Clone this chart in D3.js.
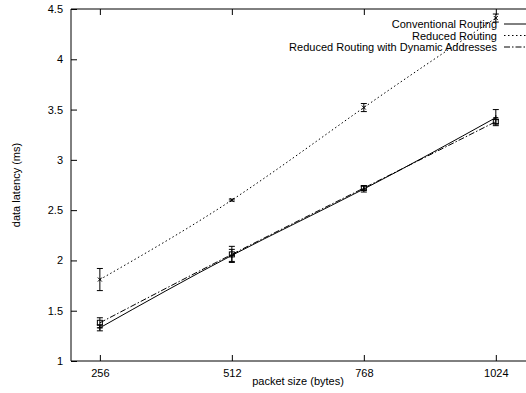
<!DOCTYPE html>
<html lang="en">
  <head>
    <meta charset="UTF-8" />
    <title>data latency</title>
    <script src="https://cdn.jsdelivr.net/npm/d3@7"></script>
    <style>
      body { margin: 0; background: #fff; }
      text { font-family: "Liberation Sans", Arial, sans-serif; font-size: 11px; fill: #000; }
    </style>
  </head>
  <body>
    <svg id="container" width="526" height="393"></svg>
    <script>
      // values
      let packetSizes = [256, 512, 768, 1024];
      let yTicks = [1, 1.5, 2, 2.5, 3, 3.5, 4, 4.5];

      let conventional = [1.33, 2.05, 2.71, 3.42];
      let conventionalErr = [0.03, 0.06, 0.03, 0.08];
      let reduced = [1.81, 2.60, 3.52, 4.41];
      let reducedErr = [0.11, 0.01, 0.04, 0.04];
      let dynamic = [1.38, 2.06, 2.72, 3.38];
      let dynamicErr = [0.05, 0.08, 0.02, 0.02];

      let seriesNames = ["Conventional Routing", "Reduced Routing", "Reduced Routing with Dynamic Addresses"];

      let svg = d3.select("#container");
      let plotLeft = 71, plotTop = 9, plotBottom = 361;

      let x = d3.scaleLinear().domain([200, 1100]).range([plotLeft, 535]);
      let y = d3.scaleLinear().domain([1, 4.5]).range([plotBottom, plotTop]);

      let series = [
        { name: seriesNames[0], vals: conventional, err: conventionalErr, dash: null, mark: "plus" },
        { name: seriesNames[1], vals: reduced, err: reducedErr, dash: "1.5,2.5", mark: "cross" },
        { name: seriesNames[2], vals: dynamic, err: dynamicErr, dash: "6,2,1.5,2", mark: "square" },
      ];

      // border (right side falls outside the window)
      svg.append("path")
        .attr("d", `M${x(1100)},${plotTop}H${plotLeft}V${plotBottom}H${x(1100)}`)
        .attr("fill", "none").attr("stroke", "#000").attr("stroke-width", 1);

      // y axis ticks inward
      let yAxis = d3.axisLeft(y).tickValues(yTicks).tickSize(-6).tickPadding(8).tickFormat(d3.format("~g"));
      let gy = svg.append("g").attr("transform", `translate(${plotLeft},0)`).call(yAxis);
      gy.select(".domain").remove();

      let xAxis = d3.axisBottom(x).tickValues(packetSizes).tickSize(-6).tickPadding(8).tickFormat(d3.format("d"));
      let gx = svg.append("g").attr("transform", `translate(0,${plotBottom})`).call(xAxis);
      gx.select(".domain").remove();

      let xTop = d3.axisTop(x).tickValues(packetSizes).tickSize(-6).tickFormat("");
      let gt = svg.append("g").attr("transform", `translate(0,${plotTop})`).call(xTop);
      gt.select(".domain").remove();

      svg.selectAll(".tick line").attr("stroke", "#000");
      svg.selectAll(".tick text").style("font-family", "Liberation Sans, Arial, sans-serif").style("font-size", "11px");

      svg.append("text").attr("x", 298).attr("y", 385).attr("text-anchor", "middle").text("packet size (bytes)");
      svg.append("text").attr("transform", "translate(20,185) rotate(-90)").attr("text-anchor", "middle").text("data latency (ms)");

      let line = d3.line().x((d, i) => x(packetSizes[i])).y((d) => y(d)).curve(d3.curveNatural);

      function drawMark(g, kind, cx, cy) {
        let s = 2.5;
        if (kind === "plus") {
          g.append("path").attr("d", `M${cx - s},${cy}H${cx + s}M${cx},${cy - s}V${cy + s}`);
        } else if (kind === "cross") {
          g.append("path").attr("d", `M${cx - 2},${cy - 2}L${cx + 2},${cy + 2}M${cx - 2},${cy + 2}L${cx + 2},${cy - 2}`);
        } else {
          g.append("rect").attr("x", cx - 2.5).attr("y", cy - 2.5).attr("width", 5).attr("height", 5);
        }
      }

      series.forEach((s) => {
        svg.append("path")
          .attr("d", line(s.vals))
          .attr("fill", "none").attr("stroke", "#000").attr("stroke-width", 1)
          .attr("stroke-dasharray", s.dash);

        let g = svg.append("g").attr("fill", "none").attr("stroke", "#000").attr("stroke-width", 1);
        s.vals.forEach((v, i) => {
          let cx = x(packetSizes[i]);
          let y0 = y(v - s.err[i]), y1 = y(v + s.err[i]);
          g.append("path").attr("d", `M${cx},${y0}V${y1}M${cx - 3},${y0}H${cx + 3}M${cx - 3},${y1}H${cx + 3}`);
          drawMark(g, s.mark, cx, y(v));
        });
      });

      // legend
      let legend = svg.append("g");
      series.forEach((s, i) => {
        let ly = 24 + i * 11.5;
        legend.append("text").attr("x", 497).attr("y", ly + 4).attr("text-anchor", "end").text(s.name);
        legend.append("line")
          .attr("x1", 504).attr("x2", 530).attr("y1", ly).attr("y2", ly)
          .attr("stroke", "#000").attr("stroke-width", 1).attr("stroke-dasharray", s.dash);
      });
    </script>
  </body>
</html>
